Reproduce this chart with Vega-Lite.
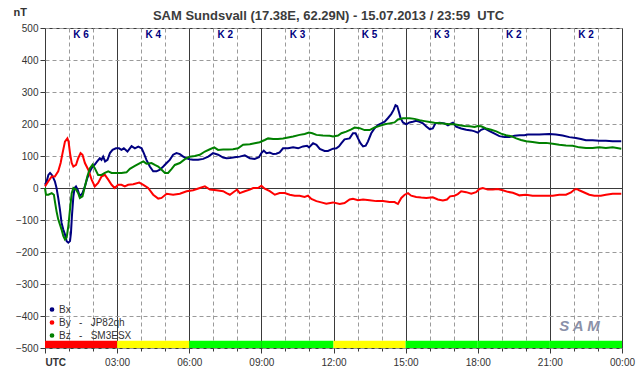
{
  "$schema": "https://vega.github.io/schema/vega-lite/v6.json",
  "width": 577,
  "height": 320,
  "autosize": {"type": "none"},
  "padding": {"left": 45, "top": 28, "right": 20, "bottom": 28},
  "background": "white",
  "config": {
    "font": "Liberation Sans",
    "view": {"stroke": "#3a3a3a", "strokeWidth": 1}
  },
  "title": {
    "text": "SAM Sundsvall (17.38E, 62.29N) - 15.07.2013 / 23:59\u00a0\u00a0UTC",
    "font": "Liberation Sans",
    "fontSize": 13,
    "fontWeight": "bold",
    "color": "#3c3c3c",
    "anchor": "middle",
    "frame": "group",
    "baseline": "alphabetic",
    "offset": 0,
    "dx": -5,
    "dy": 27
  },
  "resolve": {"axis": {"x": "independent", "y": "independent"}},
  "datasets": {
    "k": [
      {"a": 0, "b": 3, "k": 6}, {"a": 3, "b": 6, "k": 4}, {"a": 6, "b": 9, "k": 2}, {"a": 9, "b": 12, "k": 3},
      {"a": 12, "b": 15, "k": 5}, {"a": 15, "b": 18, "k": 3}, {"a": 18, "b": 21, "k": 2}, {"a": 21, "b": 24, "k": 2}
    ],
    "logo": [{"name": "SAM"}],
    "mag": [
      {"s":"Bx","t":0,"v":10},{"s":"Bx","t":0.07,"v":21},{"s":"Bx","t":0.14,"v":41},{"s":"Bx","t":0.21,"v":47},{"s":"Bx","t":0.28,"v":41},{"s":"Bx","t":0.35,"v":31},{"s":"Bx","t":0.41,"v":21},{"s":"Bx","t":0.48,"v":0},{"s":"Bx","t":0.55,"v":-31},{"s":"Bx","t":0.62,"v":-67},{"s":"Bx","t":0.69,"v":-109},{"s":"Bx","t":0.76,"v":-130},{"s":"Bx","t":0.83,"v":-145},{"s":"Bx","t":0.9,"v":-166},{"s":"Bx","t":0.97,"v":-171},{"s":"Bx","t":1.04,"v":-166},{"s":"Bx","t":1.08,"v":-140},{"s":"Bx","t":1.12,"v":-88},{"s":"Bx","t":1.18,"v":-26},{"s":"Bx","t":1.23,"v":0},{"s":"Bx","t":1.29,"v":5},{"s":"Bx","t":1.36,"v":-5},{"s":"Bx","t":1.45,"v":-26},{"s":"Bx","t":1.56,"v":-16},{"s":"Bx","t":1.66,"v":5},{"s":"Bx","t":1.76,"v":31},{"s":"Bx","t":1.87,"v":52},{"s":"Bx","t":1.98,"v":67},{"s":"Bx","t":2.07,"v":73},{"s":"Bx","t":2.17,"v":83},{"s":"Bx","t":2.28,"v":93},{"s":"Bx","t":2.35,"v":88},{"s":"Bx","t":2.42,"v":98},{"s":"Bx","t":2.5,"v":83},{"s":"Bx","t":2.6,"v":88},{"s":"Bx","t":2.7,"v":109},{"s":"Bx","t":2.81,"v":119},{"s":"Bx","t":2.95,"v":124},{"s":"Bx","t":3.08,"v":124},{"s":"Bx","t":3.18,"v":119},{"s":"Bx","t":3.28,"v":124},{"s":"Bx","t":3.36,"v":119},{"s":"Bx","t":3.43,"v":114},{"s":"Bx","t":3.53,"v":124},{"s":"Bx","t":3.6,"v":131},{"s":"Bx","t":3.74,"v":124},{"s":"Bx","t":3.88,"v":129},{"s":"Bx","t":4.02,"v":124},{"s":"Bx","t":4.11,"v":109},{"s":"Bx","t":4.22,"v":88},{"s":"Bx","t":4.36,"v":67},{"s":"Bx","t":4.5,"v":52},{"s":"Bx","t":4.64,"v":52},{"s":"Bx","t":4.78,"v":57},{"s":"Bx","t":4.92,"v":67},{"s":"Bx","t":5.06,"v":78},{"s":"Bx","t":5.19,"v":88},{"s":"Bx","t":5.33,"v":104},{"s":"Bx","t":5.47,"v":109},{"s":"Bx","t":5.61,"v":106},{"s":"Bx","t":5.75,"v":98},{"s":"Bx","t":5.89,"v":93},{"s":"Bx","t":6.02,"v":90},{"s":"Bx","t":6.16,"v":88},{"s":"Bx","t":6.37,"v":88},{"s":"Bx","t":6.58,"v":91},{"s":"Bx","t":6.79,"v":98},{"s":"Bx","t":6.99,"v":109},{"s":"Bx","t":7.2,"v":104},{"s":"Bx","t":7.41,"v":95},{"s":"Bx","t":7.55,"v":93},{"s":"Bx","t":7.69,"v":94},{"s":"Bx","t":7.89,"v":96},{"s":"Bx","t":8.1,"v":98},{"s":"Bx","t":8.31,"v":102},{"s":"Bx","t":8.52,"v":93},{"s":"Bx","t":8.72,"v":91},{"s":"Bx","t":8.9,"v":96},{"s":"Bx","t":9.0,"v":109},{"s":"Bx","t":9.1,"v":117},{"s":"Bx","t":9.21,"v":109},{"s":"Bx","t":9.35,"v":111},{"s":"Bx","t":9.49,"v":106},{"s":"Bx","t":9.62,"v":107},{"s":"Bx","t":9.76,"v":111},{"s":"Bx","t":9.9,"v":124},{"s":"Bx","t":10.11,"v":124},{"s":"Bx","t":10.32,"v":127},{"s":"Bx","t":10.53,"v":124},{"s":"Bx","t":10.73,"v":130},{"s":"Bx","t":10.9,"v":132},{"s":"Bx","t":10.98,"v":127},{"s":"Bx","t":11.15,"v":140},{"s":"Bx","t":11.29,"v":135},{"s":"Bx","t":11.43,"v":122},{"s":"Bx","t":11.63,"v":116},{"s":"Bx","t":11.77,"v":116},{"s":"Bx","t":11.98,"v":123},{"s":"Bx","t":12.12,"v":124},{"s":"Bx","t":12.23,"v":130},{"s":"Bx","t":12.33,"v":140},{"s":"Bx","t":12.46,"v":152},{"s":"Bx","t":12.67,"v":155},{"s":"Bx","t":12.81,"v":171},{"s":"Bx","t":12.92,"v":171},{"s":"Bx","t":13.02,"v":155},{"s":"Bx","t":13.12,"v":140},{"s":"Bx","t":13.23,"v":130},{"s":"Bx","t":13.34,"v":132},{"s":"Bx","t":13.43,"v":145},{"s":"Bx","t":13.57,"v":171},{"s":"Bx","t":13.71,"v":187},{"s":"Bx","t":13.85,"v":197},{"s":"Bx","t":13.99,"v":202},{"s":"Bx","t":14.13,"v":207},{"s":"Bx","t":14.26,"v":218},{"s":"Bx","t":14.4,"v":231},{"s":"Bx","t":14.5,"v":244},{"s":"Bx","t":14.58,"v":259},{"s":"Bx","t":14.65,"v":256},{"s":"Bx","t":14.72,"v":238},{"s":"Bx","t":14.79,"v":218},{"s":"Bx","t":14.89,"v":205},{"s":"Bx","t":15.03,"v":199},{"s":"Bx","t":15.16,"v":205},{"s":"Bx","t":15.3,"v":207},{"s":"Bx","t":15.44,"v":210},{"s":"Bx","t":15.58,"v":207},{"s":"Bx","t":15.72,"v":202},{"s":"Bx","t":15.86,"v":192},{"s":"Bx","t":16.0,"v":184},{"s":"Bx","t":16.13,"v":186},{"s":"Bx","t":16.24,"v":202},{"s":"Bx","t":16.41,"v":204},{"s":"Bx","t":16.62,"v":202},{"s":"Bx","t":16.76,"v":196},{"s":"Bx","t":16.9,"v":202},{"s":"Bx","t":16.97,"v":204},{"s":"Bx","t":17.1,"v":192},{"s":"Bx","t":17.31,"v":186},{"s":"Bx","t":17.52,"v":182},{"s":"Bx","t":17.73,"v":180},{"s":"Bx","t":17.87,"v":177},{"s":"Bx","t":18.0,"v":173},{"s":"Bx","t":18.14,"v":182},{"s":"Bx","t":18.28,"v":186},{"s":"Bx","t":18.49,"v":178},{"s":"Bx","t":18.7,"v":170},{"s":"Bx","t":18.9,"v":162},{"s":"Bx","t":19.11,"v":159},{"s":"Bx","t":19.32,"v":159},{"s":"Bx","t":19.53,"v":163},{"s":"Bx","t":19.74,"v":165},{"s":"Bx","t":19.94,"v":165},{"s":"Bx","t":20.08,"v":167},{"s":"Bx","t":20.35,"v":167},{"s":"Bx","t":20.56,"v":167},{"s":"Bx","t":20.98,"v":169},{"s":"Bx","t":21.25,"v":167},{"s":"Bx","t":21.53,"v":164},{"s":"Bx","t":21.81,"v":159},{"s":"Bx","t":22.08,"v":156},{"s":"Bx","t":22.29,"v":153},{"s":"Bx","t":22.5,"v":149},{"s":"Bx","t":22.78,"v":149},{"s":"Bx","t":23.05,"v":148},{"s":"Bx","t":23.33,"v":148},{"s":"Bx","t":23.61,"v":146},{"s":"Bx","t":23.97,"v":146},
      {"s":"By","t":0,"v":5},{"s":"By","t":0.14,"v":21},{"s":"By","t":0.28,"v":36},{"s":"By","t":0.41,"v":36},{"s":"By","t":0.55,"v":52},{"s":"By","t":0.65,"v":78},{"s":"By","t":0.73,"v":109},{"s":"By","t":0.83,"v":145},{"s":"By","t":0.93,"v":155},{"s":"By","t":0.98,"v":145},{"s":"By","t":1.04,"v":109},{"s":"By","t":1.11,"v":78},{"s":"By","t":1.18,"v":67},{"s":"By","t":1.29,"v":72},{"s":"By","t":1.38,"v":93},{"s":"By","t":1.48,"v":109},{"s":"By","t":1.56,"v":104},{"s":"By","t":1.66,"v":78},{"s":"By","t":1.8,"v":57},{"s":"By","t":1.94,"v":26},{"s":"By","t":2.07,"v":5},{"s":"By","t":2.21,"v":16},{"s":"By","t":2.35,"v":36},{"s":"By","t":2.49,"v":41},{"s":"By","t":2.63,"v":26},{"s":"By","t":2.77,"v":10},{"s":"By","t":2.9,"v":0},{"s":"By","t":3.04,"v":10},{"s":"By","t":3.18,"v":10},{"s":"By","t":3.32,"v":5},{"s":"By","t":3.46,"v":10},{"s":"By","t":3.67,"v":12},{"s":"By","t":3.92,"v":17},{"s":"By","t":4.09,"v":10},{"s":"By","t":4.29,"v":0},{"s":"By","t":4.5,"v":-21},{"s":"By","t":4.71,"v":-33},{"s":"By","t":4.85,"v":-31},{"s":"By","t":5.06,"v":-18},{"s":"By","t":5.33,"v":-21},{"s":"By","t":5.61,"v":-18},{"s":"By","t":5.89,"v":-10},{"s":"By","t":6.16,"v":-7},{"s":"By","t":6.44,"v":0},{"s":"By","t":6.65,"v":5},{"s":"By","t":6.86,"v":-5},{"s":"By","t":7.13,"v":-7},{"s":"By","t":7.41,"v":-10},{"s":"By","t":7.55,"v":-16},{"s":"By","t":7.69,"v":-21},{"s":"By","t":7.89,"v":-10},{"s":"By","t":7.99,"v":-5},{"s":"By","t":8.1,"v":-16},{"s":"By","t":8.31,"v":-10},{"s":"By","t":8.52,"v":-5},{"s":"By","t":8.66,"v":0},{"s":"By","t":8.86,"v":0},{"s":"By","t":9.0,"v":7},{"s":"By","t":9.14,"v":-2},{"s":"By","t":9.35,"v":-10},{"s":"By","t":9.56,"v":-21},{"s":"By","t":9.76,"v":-16},{"s":"By","t":9.97,"v":-16},{"s":"By","t":10.18,"v":-21},{"s":"By","t":10.39,"v":-24},{"s":"By","t":10.59,"v":-24},{"s":"By","t":10.8,"v":-28},{"s":"By","t":10.94,"v":-24},{"s":"By","t":11.08,"v":-34},{"s":"By","t":11.29,"v":-41},{"s":"By","t":11.49,"v":-45},{"s":"By","t":11.7,"v":-49},{"s":"By","t":11.98,"v":-45},{"s":"By","t":12.26,"v":-50},{"s":"By","t":12.46,"v":-47},{"s":"By","t":12.67,"v":-36},{"s":"By","t":12.81,"v":-34},{"s":"By","t":13.02,"v":-38},{"s":"By","t":13.23,"v":-36},{"s":"By","t":13.5,"v":-38},{"s":"By","t":13.78,"v":-41},{"s":"By","t":14.06,"v":-41},{"s":"By","t":14.33,"v":-44},{"s":"By","t":14.54,"v":-44},{"s":"By","t":14.68,"v":-50},{"s":"By","t":14.82,"v":-31},{"s":"By","t":14.96,"v":-21},{"s":"By","t":15.1,"v":-16},{"s":"By","t":15.23,"v":-24},{"s":"By","t":15.44,"v":-28},{"s":"By","t":15.65,"v":-30},{"s":"By","t":15.86,"v":-31},{"s":"By","t":16.13,"v":-29},{"s":"By","t":16.34,"v":-36},{"s":"By","t":16.55,"v":-39},{"s":"By","t":16.72,"v":-36},{"s":"By","t":16.85,"v":-26},{"s":"By","t":17.03,"v":-24},{"s":"By","t":17.17,"v":-19},{"s":"By","t":17.31,"v":-10},{"s":"By","t":17.52,"v":-13},{"s":"By","t":17.73,"v":-18},{"s":"By","t":17.93,"v":-13},{"s":"By","t":18.07,"v":-3},{"s":"By","t":18.21,"v":0},{"s":"By","t":18.42,"v":-5},{"s":"By","t":18.63,"v":-5},{"s":"By","t":18.83,"v":-3},{"s":"By","t":19.04,"v":-7},{"s":"By","t":19.25,"v":-12},{"s":"By","t":19.46,"v":-15},{"s":"By","t":19.67,"v":-21},{"s":"By","t":19.73,"v":-23},{"s":"By","t":20.01,"v":-21},{"s":"By","t":20.28,"v":-24},{"s":"By","t":20.56,"v":-24},{"s":"By","t":20.84,"v":-24},{"s":"By","t":21.12,"v":-24},{"s":"By","t":21.39,"v":-21},{"s":"By","t":21.67,"v":-21},{"s":"By","t":21.88,"v":-14},{"s":"By","t":22.02,"v":-5},{"s":"By","t":22.11,"v":-3},{"s":"By","t":22.22,"v":-7},{"s":"By","t":22.43,"v":-14},{"s":"By","t":22.64,"v":-21},{"s":"By","t":22.85,"v":-24},{"s":"By","t":23.12,"v":-24},{"s":"By","t":23.33,"v":-21},{"s":"By","t":23.61,"v":-18},{"s":"By","t":23.97,"v":-18},
      {"s":"Bz","t":0,"v":0},{"s":"Bz","t":0.04,"v":-21},{"s":"Bz","t":0.14,"v":-21},{"s":"Bz","t":0.28,"v":-16},{"s":"Bz","t":0.37,"v":-21},{"s":"Bz","t":0.41,"v":-41},{"s":"Bz","t":0.48,"v":-73},{"s":"Bz","t":0.55,"v":-98},{"s":"Bz","t":0.62,"v":-114},{"s":"Bz","t":0.69,"v":-130},{"s":"Bz","t":0.76,"v":-150},{"s":"Bz","t":0.83,"v":-161},{"s":"Bz","t":0.9,"v":-155},{"s":"Bz","t":0.97,"v":-119},{"s":"Bz","t":1.04,"v":-67},{"s":"Bz","t":1.11,"v":-16},{"s":"Bz","t":1.18,"v":0},{"s":"Bz","t":1.29,"v":-5},{"s":"Bz","t":1.38,"v":-16},{"s":"Bz","t":1.45,"v":-31},{"s":"Bz","t":1.56,"v":-26},{"s":"Bz","t":1.66,"v":5},{"s":"Bz","t":1.76,"v":36},{"s":"Bz","t":1.87,"v":62},{"s":"Bz","t":1.98,"v":73},{"s":"Bz","t":2.07,"v":62},{"s":"Bz","t":2.21,"v":41},{"s":"Bz","t":2.35,"v":41},{"s":"Bz","t":2.49,"v":47},{"s":"Bz","t":2.63,"v":52},{"s":"Bz","t":2.77,"v":47},{"s":"Bz","t":2.97,"v":47},{"s":"Bz","t":3.18,"v":47},{"s":"Bz","t":3.39,"v":49},{"s":"Bz","t":3.53,"v":60},{"s":"Bz","t":3.74,"v":69},{"s":"Bz","t":3.95,"v":78},{"s":"Bz","t":4.09,"v":83},{"s":"Bz","t":4.22,"v":76},{"s":"Bz","t":4.43,"v":78},{"s":"Bz","t":4.57,"v":72},{"s":"Bz","t":4.71,"v":67},{"s":"Bz","t":4.85,"v":57},{"s":"Bz","t":4.99,"v":47},{"s":"Bz","t":5.12,"v":47},{"s":"Bz","t":5.26,"v":59},{"s":"Bz","t":5.4,"v":72},{"s":"Bz","t":5.61,"v":78},{"s":"Bz","t":5.82,"v":90},{"s":"Bz","t":6.02,"v":98},{"s":"Bz","t":6.23,"v":100},{"s":"Bz","t":6.44,"v":104},{"s":"Bz","t":6.65,"v":114},{"s":"Bz","t":6.86,"v":121},{"s":"Bz","t":7.04,"v":127},{"s":"Bz","t":7.2,"v":119},{"s":"Bz","t":7.41,"v":120},{"s":"Bz","t":7.62,"v":120},{"s":"Bz","t":7.82,"v":121},{"s":"Bz","t":8.03,"v":124},{"s":"Bz","t":8.24,"v":135},{"s":"Bz","t":8.52,"v":137},{"s":"Bz","t":8.72,"v":140},{"s":"Bz","t":8.93,"v":143},{"s":"Bz","t":9.14,"v":150},{"s":"Bz","t":9.28,"v":155},{"s":"Bz","t":9.49,"v":153},{"s":"Bz","t":9.69,"v":153},{"s":"Bz","t":9.9,"v":155},{"s":"Bz","t":10.11,"v":158},{"s":"Bz","t":10.32,"v":161},{"s":"Bz","t":10.59,"v":166},{"s":"Bz","t":10.8,"v":169},{"s":"Bz","t":10.98,"v":173},{"s":"Bz","t":11.12,"v":171},{"s":"Bz","t":11.29,"v":166},{"s":"Bz","t":11.56,"v":164},{"s":"Bz","t":11.84,"v":163},{"s":"Bz","t":11.98,"v":161},{"s":"Bz","t":12.19,"v":164},{"s":"Bz","t":12.33,"v":171},{"s":"Bz","t":12.53,"v":176},{"s":"Bz","t":12.74,"v":183},{"s":"Bz","t":12.88,"v":189},{"s":"Bz","t":13.09,"v":187},{"s":"Bz","t":13.29,"v":181},{"s":"Bz","t":13.5,"v":181},{"s":"Bz","t":13.71,"v":189},{"s":"Bz","t":13.92,"v":194},{"s":"Bz","t":14.13,"v":199},{"s":"Bz","t":14.33,"v":202},{"s":"Bz","t":14.54,"v":205},{"s":"Bz","t":14.68,"v":214},{"s":"Bz","t":14.89,"v":218},{"s":"Bz","t":15.16,"v":218},{"s":"Bz","t":15.37,"v":216},{"s":"Bz","t":15.58,"v":212},{"s":"Bz","t":15.79,"v":209},{"s":"Bz","t":16.0,"v":206},{"s":"Bz","t":16.2,"v":204},{"s":"Bz","t":16.41,"v":203},{"s":"Bz","t":16.62,"v":201},{"s":"Bz","t":16.83,"v":199},{"s":"Bz","t":17.03,"v":199},{"s":"Bz","t":17.24,"v":196},{"s":"Bz","t":17.45,"v":194},{"s":"Bz","t":17.66,"v":193},{"s":"Bz","t":17.87,"v":191},{"s":"Bz","t":18.0,"v":194},{"s":"Bz","t":18.14,"v":193},{"s":"Bz","t":18.35,"v":186},{"s":"Bz","t":18.56,"v":182},{"s":"Bz","t":18.77,"v":177},{"s":"Bz","t":18.97,"v":170},{"s":"Bz","t":19.18,"v":165},{"s":"Bz","t":19.39,"v":162},{"s":"Bz","t":19.6,"v":155},{"s":"Bz","t":19.8,"v":150},{"s":"Bz","t":20.01,"v":146},{"s":"Bz","t":20.28,"v":144},{"s":"Bz","t":20.56,"v":141},{"s":"Bz","t":20.84,"v":141},{"s":"Bz","t":21.12,"v":138},{"s":"Bz","t":21.39,"v":135},{"s":"Bz","t":21.67,"v":133},{"s":"Bz","t":21.95,"v":132},{"s":"Bz","t":22.22,"v":127},{"s":"Bz","t":22.5,"v":125},{"s":"Bz","t":22.78,"v":125},{"s":"Bz","t":23.05,"v":127},{"s":"Bz","t":23.33,"v":125},{"s":"Bz","t":23.61,"v":127},{"s":"Bz","t":23.97,"v":123}
    ]
  },
  "layer": [
    {
      "data": {"name": "mag"},
      "mark": {"type": "line", "strokeWidth": 2, "interpolate": "linear"},
      "encoding": {
        "x": {
          "field": "t", "type": "quantitative",
          "scale": {"domain": [0, 24], "nice": false, "zero": false},
          "axis": {
            "values": [0,1,2,3,4,5,6,7,8,9,10,11,12,13,14,15,16,17,18,19,20,21,22,23,24],
            "title": null,
            "grid": true,
            "gridDash": {"condition": {"test": "datum.value % 3 == 0", "value": []}, "value": [4, 3]},
            "gridColor": {"condition": {"test": "datum.value % 3 == 0", "value": "#3a3a3a"}, "value": "#9a9a9a"},
            "gridWidth": 1,
            "domain": false,
            "ticks": true,
            "tickColor": "#3a3a3a",
            "tickSize": {"condition": {"test": "datum.value % 3 == 0", "value": 5}, "value": 3},
            "labelExpr": "datum.value == 0 ? 'UTC' : (datum.value % 3 != 0 ? '' : ((datum.value % 24 < 10 ? '0' : '') + (datum.value % 24) + ':00'))",
            "labelFontWeight": {"condition": {"test": "datum.value == 0", "value": "bold"}, "value": "normal"},
            "labelAlign": {"condition": {"test": "datum.value == 0", "value": "left"}, "value": "center"},
            "labelFontSize": 10,
            "labelColor": "#333333",
            "labelPadding": 4,
            "labelFlush": false,
            "labelOverlap": false,
            "labelBound": false
          }
        },
        "y": {
          "field": "v", "type": "quantitative",
          "scale": {"domain": [-500, 500], "nice": false, "zero": false},
          "axis": {
            "values": [-500,-400,-300,-200,-100,0,100,200,300,400,500],
            "grid": true,
            "gridDash": {"condition": {"test": "datum.value == 0", "value": []}, "value": [4, 3]},
            "gridColor": {"condition": {"test": "datum.value == 0", "value": "#3a3a3a"}, "value": "#9a9a9a"},
            "gridWidth": 1,
            "domain": false,
            "tickColor": "#3a3a3a",
            "tickSize": 5,
            "labelFontSize": 10,
            "labelColor": "#333333",
            "labelPadding": 2,
            "labelFlush": false,
            "labelOverlap": false,
            "title": "nT",
            "titleAngle": 0,
            "titleAlign": "left",
            "titleBaseline": "alphabetic",
            "titleX": -32,
            "titleY": -13,
            "titleFontSize": 11,
            "titleFontWeight": "bold",
            "titleColor": "#333333"
          }
        },
        "color": {
          "field": "s", "type": "nominal",
          "scale": {"domain": ["Bx", "By", "Bz"], "range": ["#000080", "#ff0000", "#008000"]},
          "legend": {
            "orient": "none",
            "legendX": 2,
            "legendY": 275,
            "title": null,
            "padding": 0,
            "symbolType": "circle",
            "symbolSize": 5,
            "symbolStrokeWidth": 2.5,
            "labelFontSize": 10,
            "labelColor": "#333333",
            "labelOffset": 2,
            "rowPadding": 0,
            "clipHeight": 13,
            "labelExpr": "datum.label == 'Bx' ? 'Bx' : (datum.label == 'By' ? 'By\u00a0\u00a0\u00a0-\u00a0\u00a0\u00a0JP82qh' : 'Bz\u00a0\u00a0\u00a0-\u00a0\u00a0\u00a0SM3ESX')"
          }
        }
      }
    },
    {
      "data": {"name": "k"},
      "mark": {"type": "rect"},
      "encoding": {
        "x": {"field": "a", "type": "quantitative", "axis": null},
        "x2": {"field": "b"},
        "y": {"datum": -500, "type": "quantitative", "axis": null},
        "y2": {"datum": -477},
        "fill": {
          "field": "k", "type": "ordinal",
          "scale": {"domain": [2, 3, 4, 5, 6], "range": ["#00ff00", "#00ff00", "#ffff00", "#ffff00", "#ff0000"]},
          "legend": null
        }
      }
    },
    {
      "data": {"name": "k"},
      "transform": [
        {"calculate": "(datum.a + datum.b) / 2", "as": "m"},
        {"calculate": "'K ' + datum.k", "as": "lab"}
      ],
      "mark": {"type": "text", "font": "Liberation Sans", "fontSize": 10, "fontWeight": "bold", "color": "#000080", "baseline": "middle", "align": "center"},
      "encoding": {
        "x": {"field": "m", "type": "quantitative", "axis": null},
        "y": {"datum": 479, "type": "quantitative", "axis": null},
        "text": {"field": "lab"}
      }
    },
    {
      "data": {"name": "logo"},
      "mark": {"type": "text", "font": "Liberation Sans", "fontSize": 15, "fontWeight": "bold", "fontStyle": "italic", "color": "#8a90a8", "baseline": "middle", "align": "center"},
      "encoding": {
        "x": {"datum": 22.23, "type": "quantitative", "axis": null},
        "y": {"datum": -430, "type": "quantitative", "axis": null},
        "text": {"value": "S A M"}
      }
    }
  ]
}
